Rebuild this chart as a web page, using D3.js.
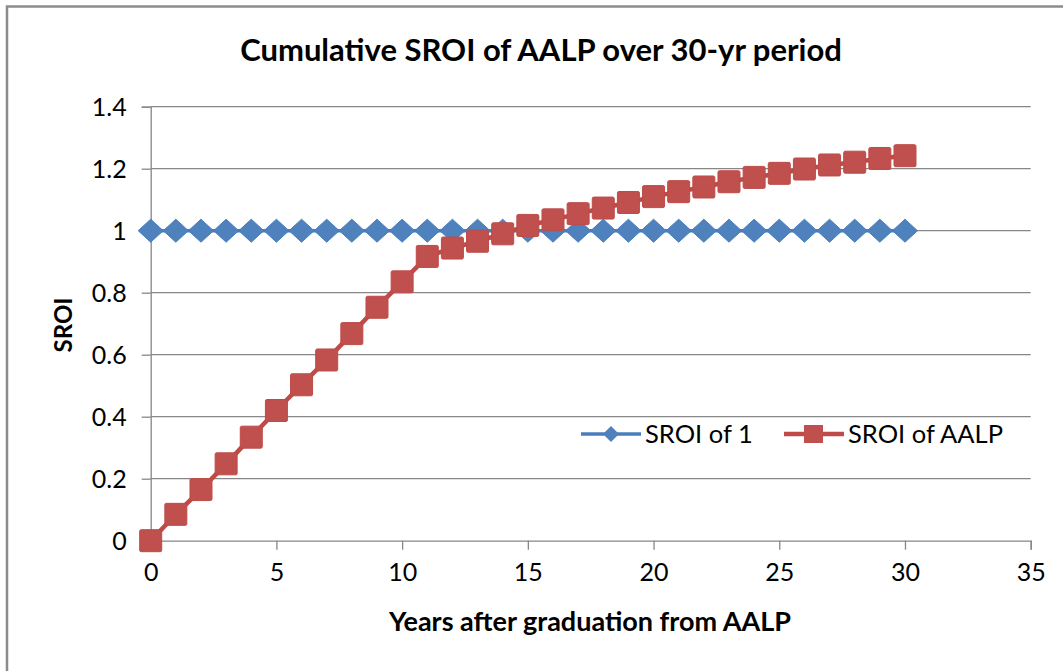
<!DOCTYPE html>
<html>
<head>
<meta charset="utf-8">
<script src="https://cdn.jsdelivr.net/npm/d3@7"></script>
<style>
  body { margin: 0; background: #fff; }
  text { font-family: Lato, "Open Sans", sans-serif; fill: #000; }
</style>
</head>
<body>
<script>
'use strict';

// years after graduation
const years = d3.range(0, 31);
// break-even reference line
const sroiOne = years.map(() => 1);
// cumulative SROI of AALP
const sroiAalp = [0, 0.085, 0.165, 0.248, 0.334, 0.42, 0.503, 0.583, 0.668, 0.753,
  0.835, 0.917, 0.944, 0.966, 0.99, 1.017, 1.035, 1.055, 1.073, 1.091,
  1.11, 1.126, 1.141, 1.158, 1.172, 1.185, 1.199, 1.212, 1.221, 1.233, 1.242];
const xTicks = [0, 5, 10, 15, 20, 25, 30, 35];
const yTicks = [0, 0.2, 0.4, 0.6, 0.8, 1, 1.2, 1.4];
const seriesNames = ["SROI of 1", "SROI of AALP"];

const blue = "#4F81BD", blueLine = "#4A7EBB";
const red = "#C0504D", redLine = "#BE4B48";
const gridColor = "#878787";

let svg = d3.select("body").append("svg")
  .attr("width", 1063)
  .attr("height", 671);

// chart frame (cropped in the original)
svg.append("path")
  .attr("d", "M7,671 V6.5 H1063")
  .attr("fill", "none")
  .attr("stroke", "#8c8c8c")
  .attr("stroke-width", 2.5);

let x = d3.scaleLinear().domain([0, 35]).range([150.7, 1030.7]);
let y = d3.scaleLinear().domain([0, 1.4]).range([540.7, 106.7]);

// horizontal gridlines
svg.append("g")
  .selectAll("line")
  .data(yTicks.slice(1))
  .enter().append("line")
  .attr("x1", x(0)).attr("x2", x(35))
  .attr("y1", d => y(d)).attr("y2", d => y(d))
  .attr("stroke", gridColor)
  .attr("stroke-width", 1.3);

// y axis
let yAxis = svg.append("g")
  .attr("transform", "translate(" + x(0) + ",0)")
  .call(d3.axisLeft(y).tickValues(yTicks).tickSize(9).tickPadding(15)
    .tickFormat(d => d3.format("")(+d.toFixed(1))));
yAxis.select(".domain").attr("stroke", gridColor).attr("stroke-width", 1.3);
yAxis.selectAll(".tick line").attr("stroke", gridColor).attr("stroke-width", 1.3);
yAxis.selectAll(".tick text")
  .style("font-size", "25px")
  .attr("fill", "#000")
  .attr("dy", "0.36em");

// x axis
let xAxis = svg.append("g")
  .attr("transform", "translate(0," + y(0) + ")")
  .call(d3.axisBottom(x).tickValues(xTicks).tickSize(9).tickPadding(14));
xAxis.select(".domain").attr("stroke", gridColor).attr("stroke-width", 1.3);
xAxis.selectAll(".tick line").attr("stroke", gridColor).attr("stroke-width", 1.3);
xAxis.selectAll(".tick text")
  .style("font-size", "25px")
  .attr("fill", "#000");

// series
let line = d3.line()
  .x((d, i) => x(years[i]))
  .y(d => y(d));

function diamond(w, h) {
  return "M0," + (-h) + "L" + w + ",0L0," + h + "L" + (-w) + ",0Z";
}

svg.append("path")
  .datum(sroiOne)
  .attr("fill", "none")
  .attr("stroke", blueLine)
  .attr("stroke-width", 3.5)
  .attr("d", line);

svg.append("g")
  .selectAll("path")
  .data(sroiOne)
  .enter().append("path")
  .attr("transform", (d, i) => "translate(" + x(years[i]) + "," + y(d) + ")")
  .attr("d", diamond(12.5, 11.5))
  .attr("fill", blue)
  .attr("stroke", blueLine)
  .attr("stroke-width", 1);

svg.append("path")
  .datum(sroiAalp)
  .attr("fill", "none")
  .attr("stroke", redLine)
  .attr("stroke-width", 4.5)
  .attr("d", line);

svg.append("g")
  .selectAll("rect")
  .data(sroiAalp)
  .enter().append("rect")
  .attr("x", (d, i) => x(years[i]) - 11)
  .attr("y", d => y(d) - 11)
  .attr("width", 22)
  .attr("height", 22)
  .attr("rx", 1.5)
  .attr("fill", red)
  .attr("stroke", redLine)
  .attr("stroke-width", 1);

// legend
let legend = svg.append("g").attr("transform", "translate(0,434)");
let legendX = [581, 784];
seriesNames.forEach((name, i) => {
  let g = legend.append("g").attr("transform", "translate(" + legendX[i] + ",0)");
  g.append("line")
    .attr("x1", 0).attr("x2", 60)
    .attr("stroke", i === 0 ? blueLine : redLine)
    .attr("stroke-width", i === 0 ? 3.5 : 4.5);
  if (i === 0) {
    g.append("path")
      .attr("transform", "translate(30,0)")
      .attr("d", diamond(8, 8))
      .attr("fill", blue);
  } else {
    g.append("rect")
      .attr("x", 20).attr("y", -9)
      .attr("width", 19).attr("height", 18)
      .attr("fill", red);
  }
  g.append("text")
    .attr("x", 64)
    .attr("dy", "0.36em")
    .style("font-size", "25.5px")
    .attr("fill", "#262626")
    .text(name);
});

// title and axis labels
svg.append("text")
  .attr("x", 541)
  .attr("y", 61)
  .attr("text-anchor", "middle")
  .style("font-size", "31px")
  .style("font-weight", "bold")
  .text("Cumulative SROI of AALP over 30-yr period");

svg.append("text")
  .attr("x", 590)
  .attr("y", 631)
  .attr("text-anchor", "middle")
  .style("font-size", "27px")
  .style("font-weight", "bold")
  .text("Years after graduation from AALP");

svg.append("text")
  .attr("transform", "translate(72,325)rotate(-90)")
  .attr("text-anchor", "middle")
  .style("font-size", "24px")
  .style("font-weight", "bold")
  .text("SROI");
</script>
</body>
</html>
